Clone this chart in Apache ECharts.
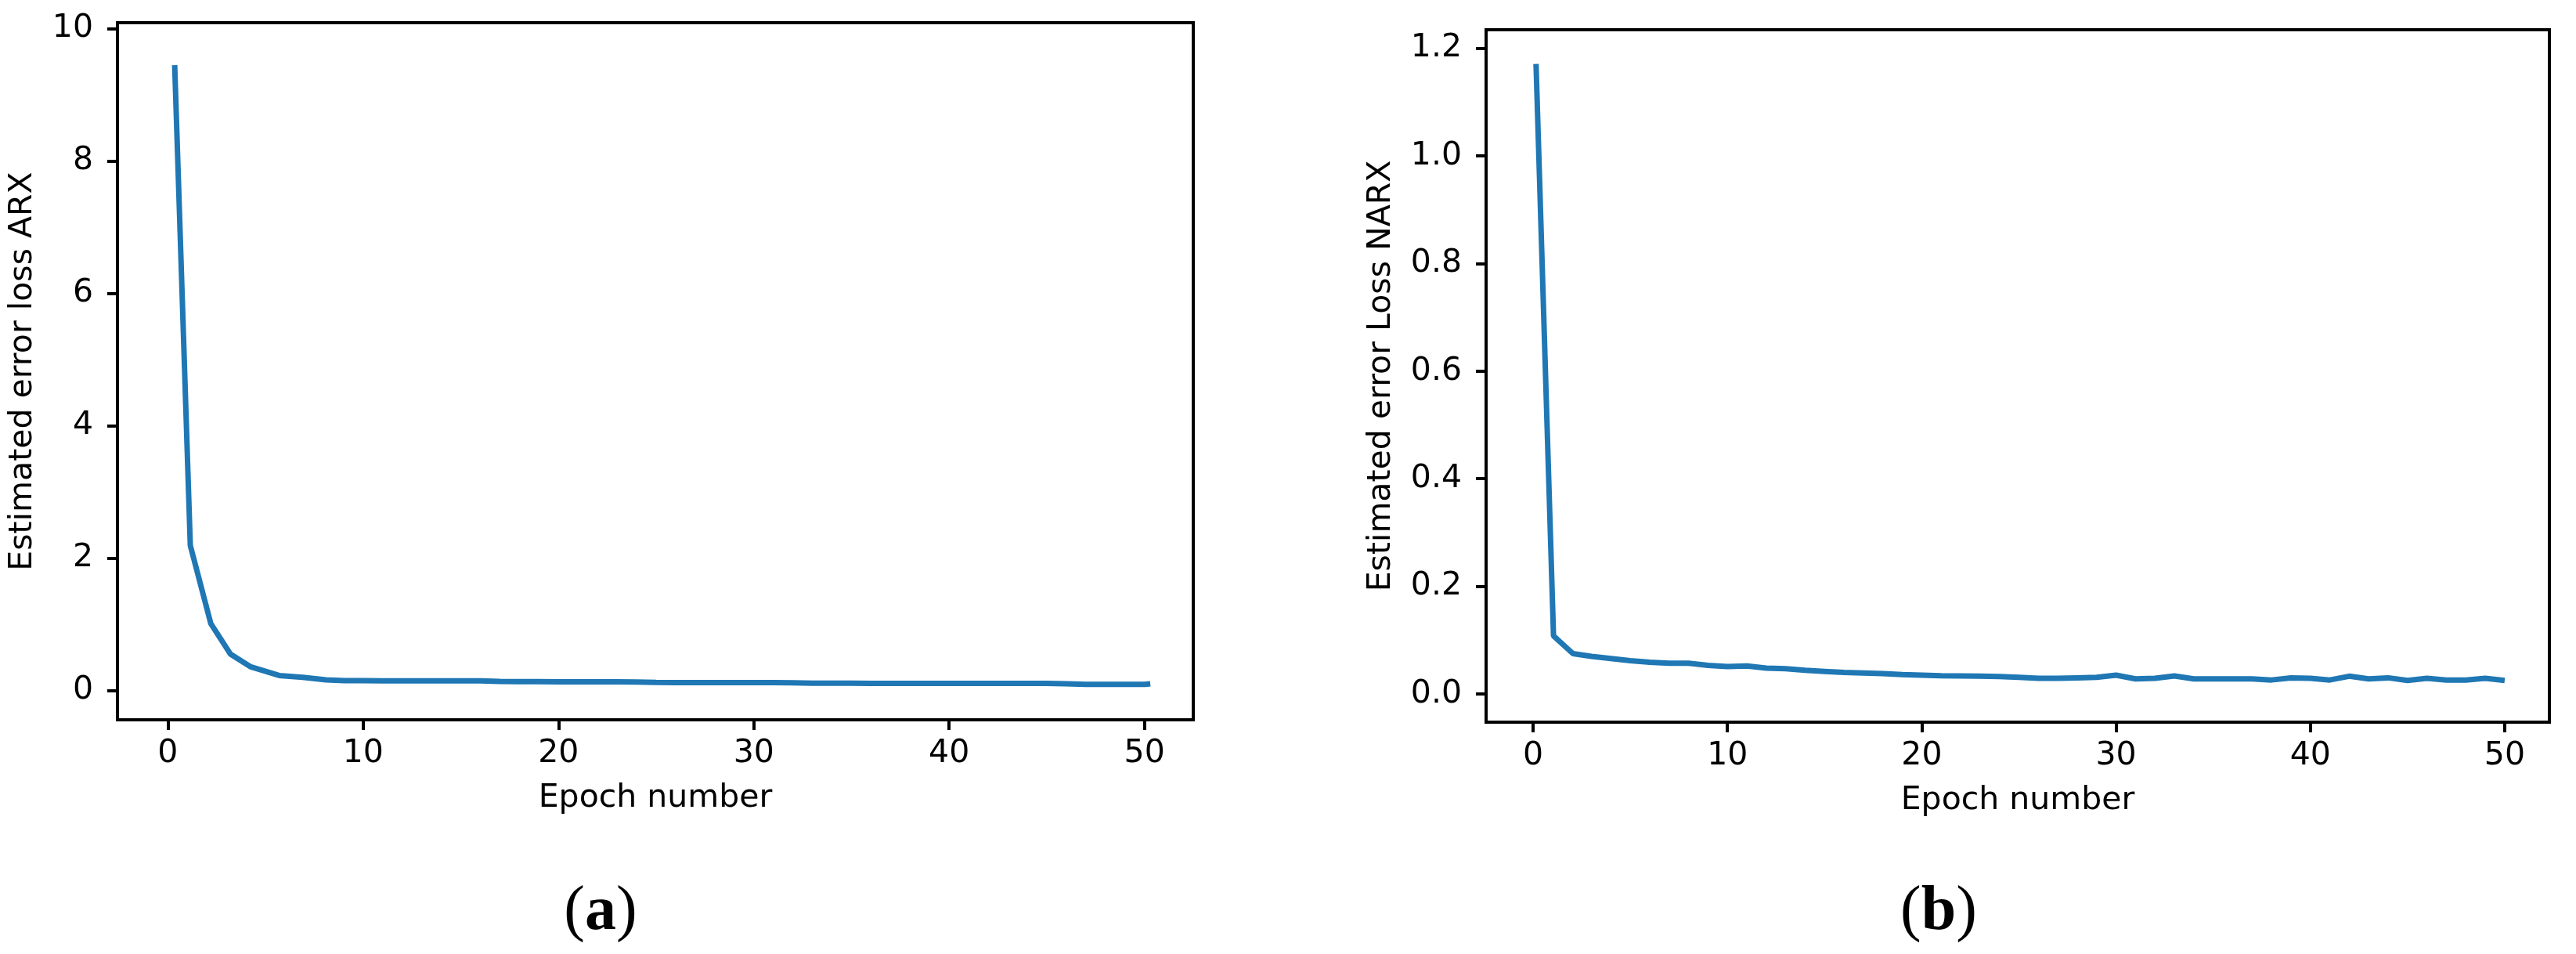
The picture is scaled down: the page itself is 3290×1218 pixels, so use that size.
<!DOCTYPE html>
<html>
<head>
<meta charset="utf-8">
<script src="https://cdn.jsdelivr.net/npm/echarts@6/dist/echarts.min.js"></script>
<style>
html,body{margin:0;padding:0;background:#fff;}
#chart{width:3290px;height:1218px;}
</style>
</head>
<body>
<div id="chart"></div>
<script>
// ---- data ----
const arxEpochs = [0.35, 1.15, 2.2, 3.2, 4.25, 5.7, 6.9, 8.1, 9.05,
  10, 11, 12, 13, 14, 15, 16, 17, 18, 19, 20, 21, 22, 23, 24, 25, 26, 27, 28, 29, 30,
  31, 32, 33, 34, 35, 36, 37, 38, 39, 40, 41, 42, 43, 44, 45, 46, 47, 48, 49, 50, 50.3];
const arxLoss = [9.45, 2.19, 1.01, 0.55, 0.355, 0.225, 0.198, 0.158, 0.147,
  0.146, 0.145, 0.145, 0.145, 0.144, 0.144, 0.143, 0.136, 0.132, 0.131, 0.130, 0.130, 0.129, 0.128, 0.127, 0.119,
  0.118, 0.118, 0.117, 0.117, 0.116, 0.116, 0.115, 0.108, 0.107, 0.107, 0.106, 0.106, 0.106, 0.105, 0.105,
  0.105, 0.105, 0.104, 0.104, 0.104, 0.100, 0.092, 0.092, 0.091, 0.090, 0.100];

const narxEpochs = [0.15, 1.05, 2.05, 3, 4, 5, 6, 7, 8, 9, 10, 11, 12, 13, 14, 15, 16, 17, 18, 19, 20,
  21, 22, 23, 24, 25, 26, 27, 28, 29, 30, 31, 32, 33, 34, 35, 36, 37, 38, 39, 40,
  41, 42, 43, 44, 45, 46, 47, 48, 49, 50];
const narxLoss = [1.171, 0.108, 0.075, 0.070, 0.066, 0.062, 0.059, 0.057, 0.057, 0.053, 0.051,
  0.052, 0.048, 0.047, 0.044, 0.042, 0.040, 0.039, 0.038, 0.036, 0.035,
  0.034, 0.0335, 0.033, 0.0325, 0.031, 0.029, 0.029, 0.030, 0.031, 0.035,
  0.028, 0.029, 0.0335, 0.028, 0.028, 0.028, 0.028, 0.026, 0.030, 0.029,
  0.026, 0.033, 0.028, 0.030, 0.025, 0.029, 0.026, 0.026, 0.029, 0.025];

const xTicks = [0, 10, 20, 30, 40, 50];
const arxYTicks = [0, 2, 4, 6, 8, 10];
const narxYTicks = [0, 0.2, 0.4, 0.6, 0.8, 1.0, 1.2];

const xTitle = 'Epoch number';
const arxYTitle = 'Estimated error loss ARX';
const narxYTitle = 'Estimated error Loss NARX';
const captions = ['a', 'b'];

// ---- chart ----
const FONT = 'DejaVu Sans';
const lineColor = '#1f77b4';

function xAxisFor(gridIndex, min, max) {
  return {
    type: 'value', gridIndex, min, max,
    splitLine: {show: false},
    axisLine: {show: true, onZero: false, lineStyle: {color: '#000', width: 4}},
    axisTick: {show: true, length: 13, lineStyle: {color: '#000', width: 4}, customValues: xTicks},
    axisLabel: {show: true, margin: 23, fontFamily: FONT, fontSize: 41, color: '#000', customValues: xTicks},
    name: xTitle, nameLocation: 'middle', nameGap: 80,
    nameTextStyle: {fontFamily: FONT, fontSize: 41, color: '#000'}
  };
}
function yAxisFor(gridIndex, min, max, ticks, title, gap, fmt) {
  return {
    type: 'value', gridIndex, min, max,
    splitLine: {show: false},
    axisLine: {show: true, onZero: false, lineStyle: {color: '#000', width: 4}},
    axisTick: {show: true, length: 13, lineStyle: {color: '#000', width: 4}, customValues: ticks},
    axisLabel: {show: true, margin: 31, fontFamily: FONT, fontSize: 41, color: '#000', customValues: ticks, formatter: fmt},
    name: title, nameLocation: 'middle', nameGap: gap, nameRotate: 90,
    nameTextStyle: {fontFamily: FONT, fontSize: 41, color: '#000'}
  };
}

const chart = echarts.init(document.getElementById('chart'));
chart.setOption({
  backgroundColor: '#fff',
  animation: false,
  grid: [
    {left: 150, top: 29, width: 1374, height: 890, show: true, borderColor: '#000', borderWidth: 4, backgroundColor: 'transparent'},
    {left: 1898, top: 38, width: 1358, height: 884, show: true, borderColor: '#000', borderWidth: 4, backgroundColor: 'transparent'}
  ],
  xAxis: [
    xAxisFor(0, -2.58, 52.5),
    xAxisFor(1, -2.42, 52.3)
  ],
  yAxis: [
    yAxisFor(0, -0.445, 10.09, arxYTicks, arxYTitle, 100, v => String(v)),
    yAxisFor(1, -0.0524, 1.2345, narxYTicks, narxYTitle, 113, v => v.toFixed(1))
  ],
  series: [
    {type: 'line', xAxisIndex: 0, yAxisIndex: 0, showSymbol: false, symbol: 'none',
     lineStyle: {color: lineColor, width: 7}, data: arxEpochs.map((e, i) => [e, arxLoss[i]])},
    {type: 'line', xAxisIndex: 1, yAxisIndex: 1, showSymbol: false, symbol: 'none',
     lineStyle: {color: lineColor, width: 7}, data: narxEpochs.map((e, i) => [e, narxLoss[i]])}
  ],
  graphic: [
    {type: 'text', x: 767, y: 1165, style: {
      text: '{p|(}{b|' + captions[0] + '}{p|)}', align: 'center', verticalAlign: 'middle',
      rich: {p: {fontFamily: 'Liberation Serif', fontSize: 80, color: '#000'},
             b: {fontFamily: 'Liberation Serif', fontSize: 80, fontWeight: 'bold', color: '#000'}}}},
    {type: 'text', x: 2476, y: 1165, style: {
      text: '{p|(}{b|' + captions[1] + '}{p|)}', align: 'center', verticalAlign: 'middle',
      rich: {p: {fontFamily: 'Liberation Serif', fontSize: 80, color: '#000'},
             b: {fontFamily: 'Liberation Serif', fontSize: 80, fontWeight: 'bold', color: '#000'}}}}
  ]
});
</script>
</body>
</html>
